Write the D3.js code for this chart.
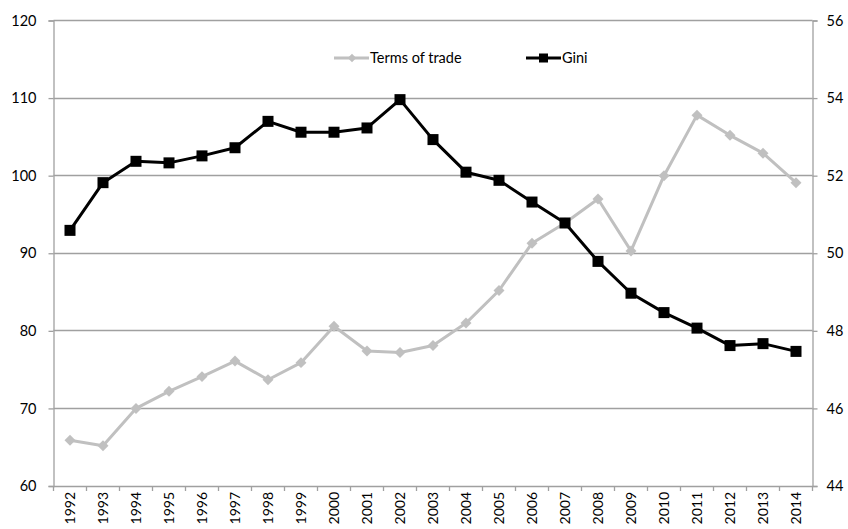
<!DOCTYPE html>
<html>
<head>
<meta charset="utf-8">
<script src="https://cdn.jsdelivr.net/npm/d3@7"></script>
<style>
  body { margin: 0; background: #fff; }
  svg text { font-family: Lato, "Open Sans", "DejaVu Sans", sans-serif; fill: #000; }
</style>
</head>
<body>
<div id="chart"></div>
<script>
var years = ["1992","1993","1994","1995","1996","1997","1998","1999","2000","2001","2002","2003",
             "2004","2005","2006","2007","2008","2009","2010","2011","2012","2013","2014"];
// left axis series
var termsOfTrade = [65.9, 65.2, 70.0, 72.2, 74.1, 76.1, 73.7, 75.9, 80.6, 77.4, 77.2, 78.1,
                    81.0, 85.2, 91.3, 93.9, 97.0, 90.3, 100.0, 107.8, 105.2, 102.9, 99.1];
// right axis series
var gini = [50.59, 51.82, 52.37, 52.33, 52.51, 52.72, 53.40, 53.12, 53.12, 53.23, 53.96, 52.93,
            52.09, 51.88, 51.32, 50.78, 49.79, 48.97, 48.47, 48.07, 47.62, 47.67, 47.47];
var leftTicks = [60, 70, 80, 90, 100, 110, 120];
var rightTicks = [44, 46, 48, 50, 52, 54, 56];

var W = 848, H = 529;
var margin = { top: 20.5, right: 35.5, bottom: 43, left: 53.5 },
    width = W - margin.left - margin.right,
    height = H - margin.top - margin.bottom;

var svg = d3.select("#chart").append("svg")
    .attr("width", W)
    .attr("height", H);

var g = svg.append("g")
    .attr("transform", "translate(" + margin.left + "," + margin.top + ")");

var x = d3.scaleBand().domain(years).range([0, width]);
var yL = d3.scaleLinear().domain([60, 120]).range([height, 0]);
var yR = d3.scaleLinear().domain([44, 56]).range([height, 0]);

var gridCol = "#a0a0a0";

/* gridlines */
g.append("g").selectAll("line")
    .data(leftTicks.slice(1))
    .enter().append("line")
    .attr("x1", 0).attr("x2", width)
    .attr("y1", function (d) { return Math.round(yL(d)); })
    .attr("y2", function (d) { return Math.round(yL(d)); })
    .attr("stroke", gridCol)
    .attr("stroke-width", 1.3);

/* axes */
var axL = g.append("g").call(d3.axisLeft(yL).tickValues(leftTicks).tickSize(5).tickPadding(12));
var axR = g.append("g").attr("transform", "translate(" + width + ",0)")
    .call(d3.axisRight(yR).tickValues(rightTicks).tickSize(5).tickPadding(9));
var axB = g.append("g").attr("transform", "translate(0," + height + ")")
    .call(d3.axisBottom(x).tickSize(0).tickPadding(0));

[axL, axR].forEach(function (a) {
    a.select(".domain").attr("stroke", gridCol).attr("stroke-width", 1.3);
    a.selectAll(".tick line").attr("stroke", gridCol).attr("stroke-width", 1.3);
    a.selectAll("text").style("font-size", "14.5px");
});
axB.select(".domain").attr("stroke", gridCol).attr("stroke-width", 1.3);
axB.selectAll(".tick text")
    .style("font-size", "14px")
    .attr("text-anchor", "end")
    .attr("transform", "translate(0,6) rotate(-90)")
    .attr("dy", "0.35em")
    .attr("x", 0).attr("y", 0);

/* category separator ticks */
g.append("g").selectAll("line")
    .data(d3.range(years.length + 1))
    .enter().append("line")
    .attr("x1", function (i) { return Math.round(i * x.step()); })
    .attr("x2", function (i) { return Math.round(i * x.step()); })
    .attr("y1", height).attr("y2", height + 5)
    .attr("stroke", gridCol)
    .attr("stroke-width", 1.3);

function cx(d, i) { return x(years[i]) + x.bandwidth() / 2; }

/* terms of trade */
var ttCol = "#c0c0c0";
g.append("path")
    .datum(termsOfTrade)
    .attr("fill", "none")
    .attr("stroke", ttCol)
    .attr("stroke-width", 3)
    .attr("stroke-linejoin", "round")
    .attr("d", d3.line().x(cx).y(function (d) { return yL(d); }));

var diamond = d3.symbol().type(d3.symbolSquare).size(60);
g.append("g").selectAll("path")
    .data(termsOfTrade)
    .enter().append("path")
    .attr("d", diamond)
    .attr("fill", ttCol)
    .attr("transform", function (d, i) { return "translate(" + cx(d, i) + "," + yL(d) + ") rotate(45)"; });

/* gini */
g.append("path")
    .datum(gini)
    .attr("fill", "none")
    .attr("stroke", "#000")
    .attr("stroke-width", 3)
    .attr("stroke-linejoin", "round")
    .attr("d", d3.line().x(cx).y(function (d) { return yR(d); }));

g.append("g").selectAll("rect")
    .data(gini)
    .enter().append("rect")
    .attr("x", function (d, i) { return cx(d, i) - 5.5; })
    .attr("y", function (d) { return yR(d) - 5.5; })
    .attr("width", 11).attr("height", 11)
    .attr("fill", "#000");

/* legend */
var leg = svg.append("g").attr("transform", "translate(0,58)");
leg.append("line").attr("x1", 334).attr("x2", 369).attr("y1", 0).attr("y2", 0)
    .attr("stroke", ttCol).attr("stroke-width", 3);
leg.append("path").attr("d", d3.symbol().type(d3.symbolSquare).size(36))
    .attr("fill", ttCol).attr("transform", "translate(352,0) rotate(45)");
leg.append("text").attr("x", 370).attr("y", 0).attr("dy", "0.35em")
    .style("font-size", "14.5px").text("Terms of trade");

leg.append("line").attr("x1", 526).attr("x2", 561).attr("y1", 0).attr("y2", 0)
    .attr("stroke", "#000").attr("stroke-width", 3);
leg.append("rect").attr("x", 539).attr("y", -4.5).attr("width", 9).attr("height", 9).attr("fill", "#000");
leg.append("text").attr("x", 562).attr("y", 0).attr("dy", "0.35em")
    .style("font-size", "14.5px").text("Gini");
</script>
</body>
</html>
